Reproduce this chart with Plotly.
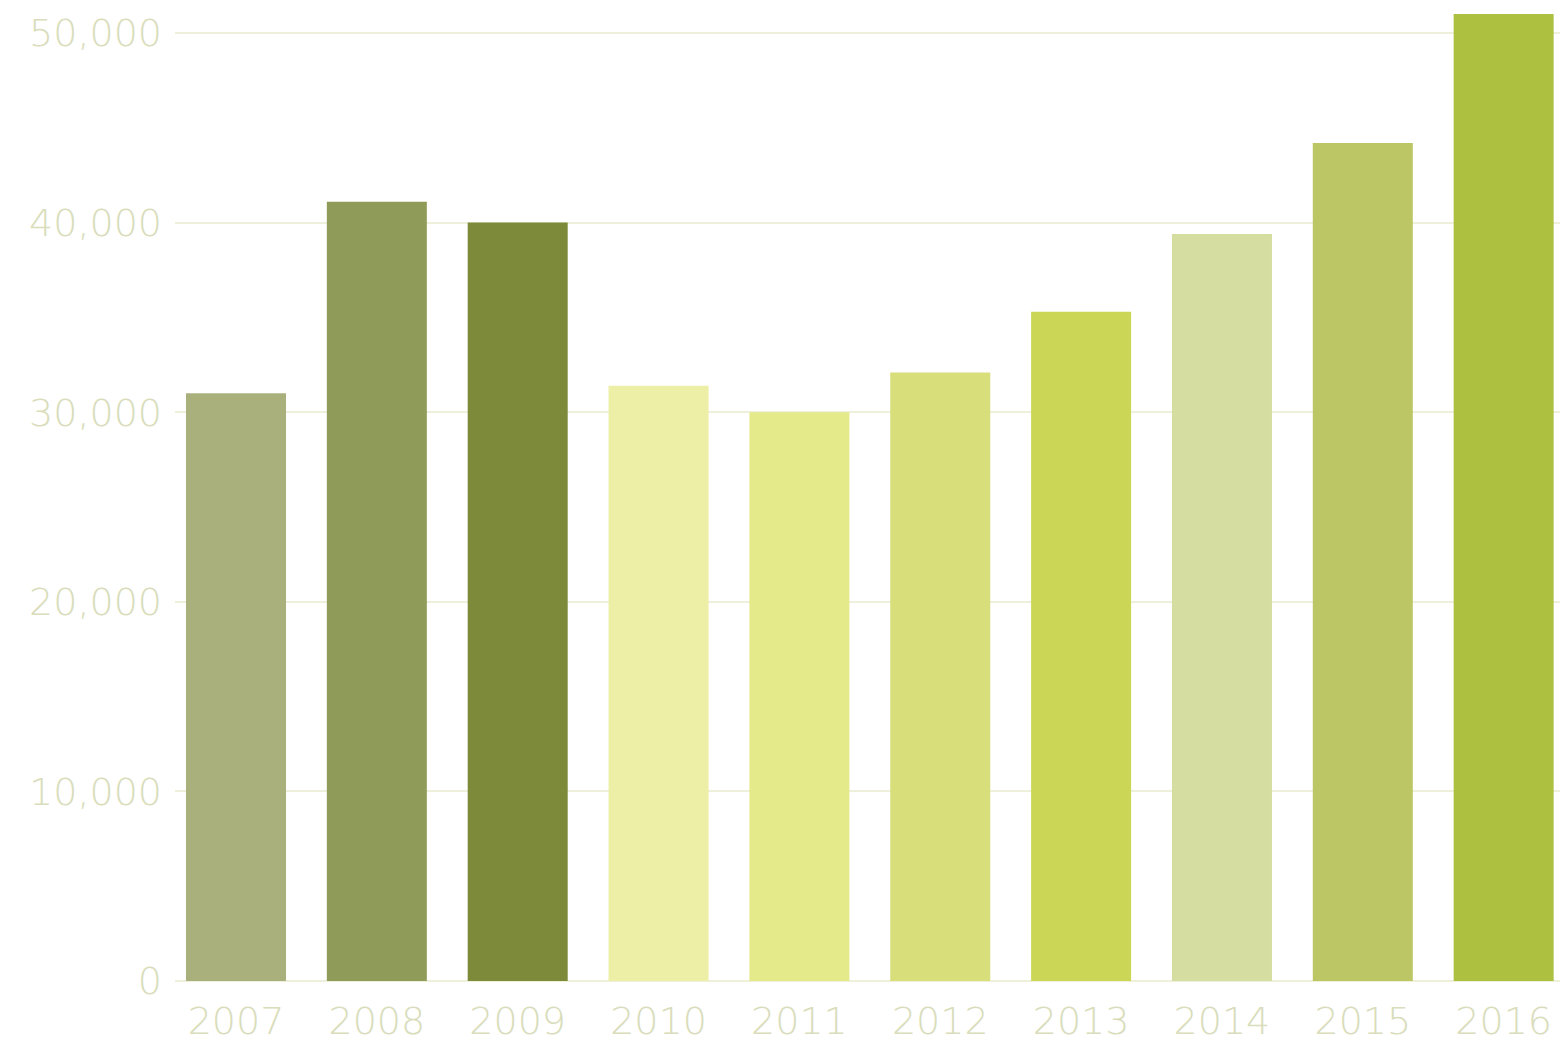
import plotly.graph_objects as go

years = ["2007", "2008", "2009", "2010", "2011", "2012", "2013", "2014", "2015", "2016"]
values = [31000, 41100, 40000, 31400, 30000, 32100, 35300, 39400, 44200, 51000]
colors = ["#a9b07c", "#8f9b59", "#7c8a39", "#ecefa5", "#e4e98a",
          "#d7de7a", "#ccd656", "#d6dda0", "#bcc665", "#adc040"]
y_ticks = [0, 10000, 20000, 30000, 40000, 50000]
y_tick_labels = ["0", "10,000", "20,000", "30,000", "40,000", "50,000"]

label_font = dict(family="DejaVu Sans", size=38, color="#d9ddbb", weight=200)

fig = go.Figure(go.Bar(
    x=list(range(len(years))), y=values,
    marker=dict(color=colors, line=dict(width=0)),
    width=0.71,
))

fig.update_layout(
    width=1560, height=1045,
    margin=dict(l=175, r=0, t=0, b=64),
    paper_bgcolor="white", plot_bgcolor="white",
    showlegend=False, bargap=0.29,
    xaxis=dict(
        tickmode="array", tickvals=list(range(len(years))), ticktext=years,
        range=[-0.433, 9.40], showgrid=False, zeroline=False,
        showline=False, ticks="", tickfont=label_font, ticklabelstandoff=14,
    ),
    yaxis=dict(
        tickmode="array", tickvals=y_ticks, ticktext=y_tick_labels,
        range=[0, 51740], showgrid=True, gridcolor="#eef0dc", gridwidth=2,
        zeroline=True, zerolinecolor="#eef0dc", zerolinewidth=2,
        showline=False, ticks="", tickfont=label_font, ticklabelstandoff=12,
    ),
)

fig.write_html("out.html")
